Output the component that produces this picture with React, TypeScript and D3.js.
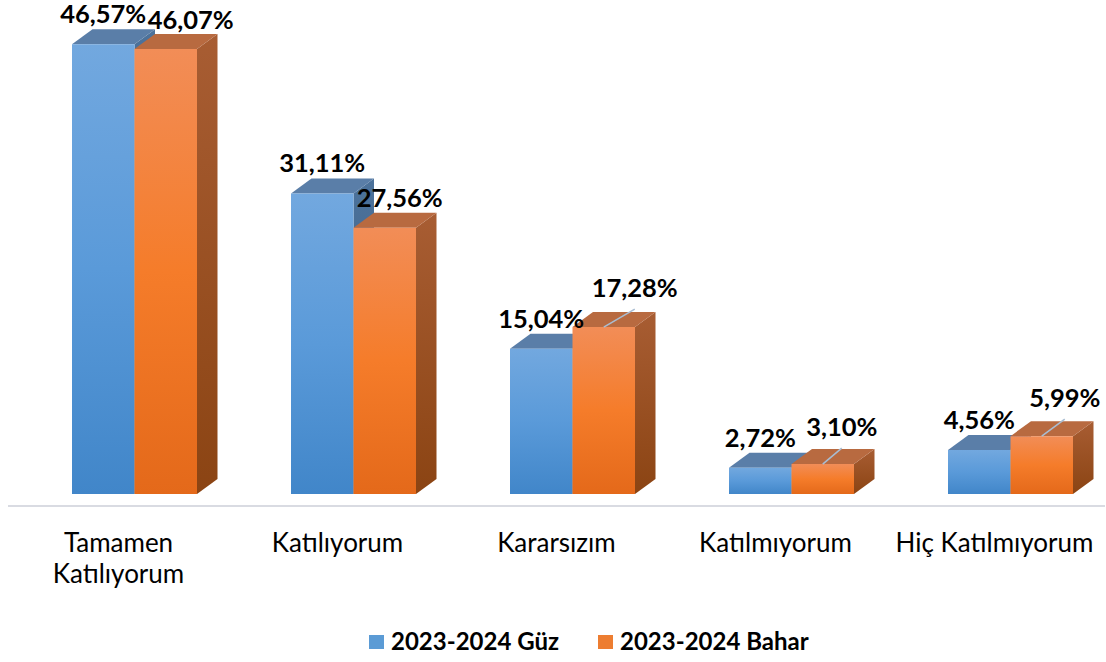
import React from "react";
import * as d3 from "d3";

const categories = ["Tamamen Katılıyorum", "Katılıyorum", "Kararsızım", "Katılmıyorum", "Hiç Katılmıyorum"];
const categoryLines = [["Tamamen", "Katılıyorum"], ["Katılıyorum"], ["Kararsızım"], ["Katılmıyorum"], ["Hiç Katılmıyorum"]];
const seriesNames = ["2023-2024 Güz", "2023-2024 Bahar"];
const guzValues = [46.57, 31.11, 15.04, 2.72, 4.56];
const baharValues = [46.07, 27.56, 17.28, 3.1, 5.99];
// manual label nudges (as in the source chart) for the second series
const baharLabelNudge = [[25, 1], [15, 0], [31, -9], [19, -7], [23, -8]];

const W = 1106;
const H = 662;
const baseY = 494;
const DX = 20.5;
const DY = 15;
const FONT = "Lato, 'Open Sans', sans-serif";

const styles = [
  { top: "#5a7ea8", side: "#4b6f97", grad: "gBlue", sideGrad: "gBlueSide", legend: "#5b9bd5" },
  { top: "#b86a40", side: "#9a5126", grad: "gOrange", sideGrad: "gOrangeSide", legend: "#ed7d31" },
];

const fmt = (v: number) => v.toFixed(2).replace(".", ",") + "%";

export default function App() {
  const y = d3.scaleLinear().domain([0, 50]).range([baseY, baseY - 483]);
  const x = d3.scaleBand<string>().domain(categories).range([9.5, 9.5 + 219 * 5]).padding(0);
  const xs = d3.scaleBand<string>().domain(seriesNames).range([-47, 78]).padding(0);
  const bw = xs.bandwidth();
  const all = [guzValues, baharValues];

  return (
    <svg width={W} height={H} style={{ position: "absolute", left: 0, top: 0, background: "#fff" }}>
      <defs>
        <linearGradient id="gBlue" x1="0" y1="0" x2="0" y2="1">
          <stop offset="0" stopColor="#72a8df" />
          <stop offset="0.5" stopColor="#5a9ad9" />
          <stop offset="1" stopColor="#4186c9" />
        </linearGradient>
        <linearGradient id="gBlueSide" x1="0" y1="0" x2="0" y2="1">
          <stop offset="0" stopColor="#4c729b" />
          <stop offset="1" stopColor="#365a80" />
        </linearGradient>
        <linearGradient id="gOrange" x1="0" y1="0" x2="0" y2="1">
          <stop offset="0" stopColor="#f28d57" />
          <stop offset="0.5" stopColor="#f57c2a" />
          <stop offset="1" stopColor="#e4691a" />
        </linearGradient>
        <linearGradient id="gOrangeSide" x1="0" y1="0" x2="0" y2="1">
          <stop offset="0" stopColor="#a85d33" />
          <stop offset="1" stopColor="#8b4413" />
        </linearGradient>
      </defs>

      <line x1={8} x2={1105} y1={506} y2={506} stroke="#d9dbe2" strokeWidth={2} />

      {categories.map((c, i) => {
        const cx = (x(c) as number) + x.bandwidth() / 2;
        return (
          <g key={c}>
            {seriesNames.map((s, k) => {
              const v = all[k][i];
              const x0 = cx + (xs(s) as number);
              const yt = y(v);
              const st = styles[k];
              const front = `M${x0},${yt}H${x0 + bw}V${baseY}H${x0}Z`;
              const top = `M${x0},${yt}L${x0 + DX},${yt - DY}H${x0 + bw + DX}L${x0 + bw},${yt}Z`;
              const side = `M${x0 + bw},${yt}L${x0 + bw + DX},${yt - DY}V${baseY - DY}L${x0 + bw},${baseY}Z`;
              return (
                <g key={s}>
                  <path d={side} fill={`url(#${st.sideGrad})`} />
                  <path d={top} fill={st.top} />
                  <path d={front} fill={`url(#${st.grad})`} />
                </g>
              );
            })}
          </g>
        );
      })}

      {categories.map((c, i) => {
        const cx = (x(c) as number) + x.bandwidth() / 2;
        return (
          <g key={"lab" + c}>
            {seriesNames.map((s, k) => {
              const v = all[k][i];
              const fcx = cx + (xs(s) as number) + bw / 2;
              const yt = y(v);
              const nd = k === 1 ? baharLabelNudge[i] : [0, 0];
              const lx = fcx + nd[0];
              const ly = yt - 21 + nd[1];
              return (
                <g key={s}>
                  {nd[1] < 0 && (
                    <line x1={fcx} y1={yt} x2={lx} y2={ly + 12} stroke="#a9bdd2" strokeWidth={1.6} />
                  )}
                  <text x={lx} y={ly} textAnchor="middle" fontFamily={FONT} fontWeight={700} fontSize={25.5} fill="#000">
                    {fmt(v)}
                  </text>
                </g>
              );
            })}
          </g>
        );
      })}

      {categories.map((c, i) => {
        const cx = (x(c) as number) + x.bandwidth() / 2;
        return (
          <text key={"cat" + c} x={cx - 0.5} y={552} textAnchor="middle" fontFamily={FONT} fontSize={26} fill="#000">
            {categoryLines[i].map((l, j) => (
              <tspan key={j} x={cx - 0.5} dy={j === 0 ? 0 : 31}>
                {l}
              </tspan>
            ))}
          </text>
        );
      })}

      {seriesNames.map((s, k) => {
        const lx = [369, 598][k];
        return (
          <g key={"leg" + s}>
            <rect x={lx} y={635} width={15} height={14} fill={styles[k].legend} />
            <text x={lx + 22} y={650} fontFamily={FONT} fontWeight={700} fontSize={24} fill="#000">
              {s}
            </text>
          </g>
        );
      })}
    </svg>
  );
}
